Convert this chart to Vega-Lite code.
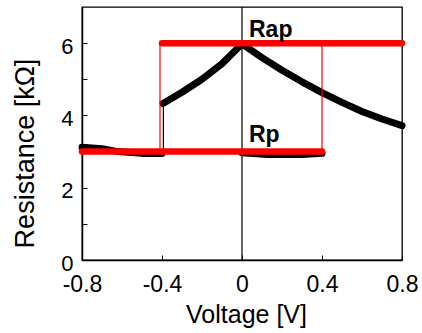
{
  "$schema": "https://vega.github.io/schema/vega-lite/v6.json",
  "width": 320,
  "height": 253,
  "autosize": "none",
  "padding": {"left": 82, "top": 7, "right": 20, "bottom": 73},
  "background": "white",
  "config": {
    "font": "Liberation Sans",
    "view": {"stroke": "black", "strokeWidth": 1.3},
    "axis": {"grid": false, "domainColor": "black", "domainWidth": 1.5, "tickColor": "black", "tickWidth": 1, "labelColor": "black", "titleColor": "black", "labelFontSize": 23, "titleFontSize": 25, "titleFontWeight": "normal", "labelFont": "Liberation Sans", "titleFont": "Liberation Sans"}
  },
  "datasets": {
    "lines": [
      {"g": "B1", "i": 1, "x": -0.8, "y": 3.12},
      {"g": "B1", "i": 2, "x": -0.7, "y": 3.08},
      {"g": "B1", "i": 3, "x": -0.62, "y": 3.0},
      {"g": "B1", "i": 4, "x": -0.5, "y": 2.95},
      {"g": "B1", "i": 5, "x": -0.4, "y": 2.95},
      {"g": "B2", "i": 1, "x": -0.395, "y": 4.33},
      {"g": "B2", "i": 2, "x": -0.3, "y": 4.64},
      {"g": "B2", "i": 3, "x": -0.2, "y": 5.0},
      {"g": "B2", "i": 4, "x": -0.1, "y": 5.43},
      {"g": "B2", "i": 5, "x": 0.0, "y": 5.98},
      {"g": "B2", "i": 6, "x": 0.1, "y": 5.6},
      {"g": "B2", "i": 7, "x": 0.2, "y": 5.25},
      {"g": "B2", "i": 8, "x": 0.3, "y": 4.93},
      {"g": "B2", "i": 9, "x": 0.4, "y": 4.63},
      {"g": "B2", "i": 10, "x": 0.5, "y": 4.36},
      {"g": "B2", "i": 11, "x": 0.6, "y": 4.11},
      {"g": "B2", "i": 12, "x": 0.7, "y": 3.9},
      {"g": "B2", "i": 13, "x": 0.8, "y": 3.72},
      {"g": "B3", "i": 1, "x": 0.0, "y": 2.97},
      {"g": "B3", "i": 2, "x": 0.13, "y": 2.92},
      {"g": "B3", "i": 3, "x": 0.3, "y": 2.92},
      {"g": "B3", "i": 4, "x": 0.4, "y": 2.95}
    ],
    "red": [
      {"g": "Rap", "i": 1, "x": -0.4, "y": 6},
      {"g": "Rap", "i": 2, "x": 0.8, "y": 6},
      {"g": "Rp", "i": 1, "x": -0.8, "y": 3},
      {"g": "Rp", "i": 2, "x": 0.4, "y": 3}
    ],
    "thinred": [
      {"g": "L", "i": 1, "x": -0.41, "y": 3},
      {"g": "L", "i": 2, "x": -0.41, "y": 6},
      {"g": "R", "i": 1, "x": 0.4, "y": 3},
      {"g": "R", "i": 2, "x": 0.4, "y": 6}
    ],
    "thinblack": [
      {"g": "K", "i": 1, "x": -0.393, "y": 2.95},
      {"g": "K", "i": 2, "x": -0.393, "y": 4.33},
      {"g": "Z", "i": 1, "x": 0, "y": 0},
      {"g": "Z", "i": 2, "x": 0, "y": 7}
    ],
    "labels": [
      {"x": 0.035, "y": 6.17, "t": "Rap"},
      {"x": 0.035, "y": 3.27, "t": "Rp"}
    ]
  },
  "encoding": {
    "x": {"field": "x", "type": "quantitative", "scale": {"domain": [-0.8, 0.8], "nice": false, "zero": false},
      "axis": {"values": [-0.8, -0.4, 0, 0.4, 0.8], "title": "Voltage [V]", "tickSize": -5, "labelPadding": 18, "labelFlush": false,
        "titleX": 164, "titleY": 62, "titleBaseline": "alphabetic", "titleAnchor": "middle",
        "labelExpr": "'' + datum.value"}},
    "y": {"field": "y", "type": "quantitative", "scale": {"domain": [0, 7], "nice": false},
      "axis": {"values": [0, 1, 2, 3, 4, 5, 6], "title": "Resistance [kΩ]", "tickSize": -5, "labelPadding": 14, "labelOffset": 3, "labelFontSize": 22,
        "titleX": -49, "titleY": 146, "titleBaseline": "alphabetic", "titleAngle": 270, "titleAlign": "center", "titleFontSize": 27,
        "labelExpr": "datum.value % 2 == 0 ? datum.label : ''"}}
  },
  "layer": [
    {"data": {"name": "thinblack"}, "mark": {"type": "line", "color": "black", "strokeWidth": 1.2},
      "encoding": {"detail": {"field": "g"}, "order": {"field": "i"}}},
    {"data": {"name": "lines"}, "mark": {"type": "line", "color": "black", "strokeWidth": 7, "strokeCap": "round", "strokeJoin": "round"},
      "encoding": {"detail": {"field": "g"}, "order": {"field": "i"}}},
    {"data": {"name": "thinred"}, "mark": {"type": "line", "color": "#ff0000", "strokeWidth": 1.2},
      "encoding": {"detail": {"field": "g"}, "order": {"field": "i"}}},
    {"data": {"name": "red"}, "mark": {"type": "line", "color": "#ff0000", "strokeWidth": 6.5, "strokeCap": "round"},
      "encoding": {"detail": {"field": "g"}, "order": {"field": "i"}}},
    {"data": {"name": "labels"}, "mark": {"type": "text", "align": "left", "baseline": "alphabetic", "fontSize": 23, "fontWeight": "bold", "font": "Liberation Sans", "color": "black"},
      "encoding": {"text": {"field": "t"}}}
  ]
}
